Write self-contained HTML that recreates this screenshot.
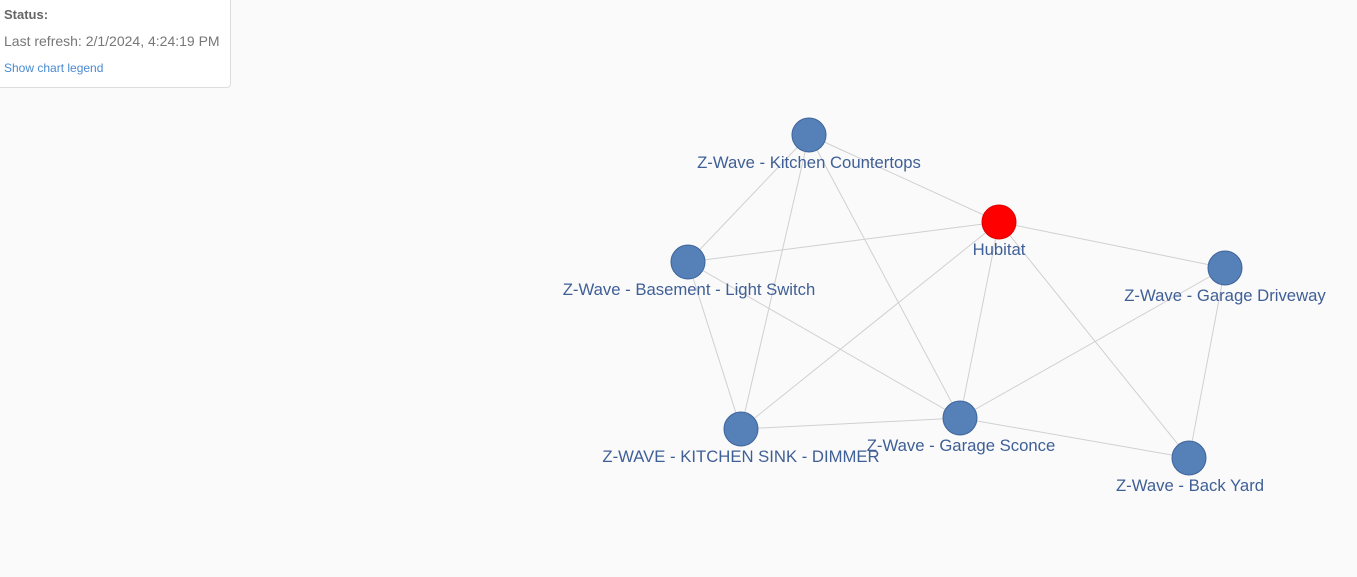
<!DOCTYPE html>
<html><head><style>
body{margin:0;width:1357px;height:577px;background:#fafafa;font-family:"Liberation Sans",sans-serif;overflow:hidden;position:relative}
.box{position:absolute;left:-1px;top:-1px;width:230px;height:87px;background:#fff;border:1px solid #ddd;border-radius:0 0 4px 0}
.t1{position:absolute;left:4px;top:7px;font-size:13px;font-weight:bold;color:#666}
.t2{position:absolute;left:4px;top:33px;font-size:14px;color:#777}
.t3{position:absolute;left:4px;top:61px;font-size:12px;color:#4a8ad0}
</style></head><body>
<div class="box"></div>
<div class="t1">Status:</div>
<div class="t2">Last refresh: 2/1/2024, 4:24:19 PM</div>
<div class="t3">Show chart legend</div>
<svg width="1357" height="577" style="position:absolute;left:0;top:0">
<g stroke="#d0d0d0" stroke-width="1">
<line x1="809" y1="135" x2="999" y2="222"/>
<line x1="809" y1="135" x2="688" y2="262"/>
<line x1="809" y1="135" x2="960" y2="418"/>
<line x1="809" y1="135" x2="741" y2="429"/>
<line x1="688" y1="262" x2="999" y2="222"/>
<line x1="688" y1="262" x2="741" y2="429"/>
<line x1="688" y1="262" x2="960" y2="418"/>
<line x1="999" y1="222" x2="1225" y2="268"/>
<line x1="999" y1="222" x2="741" y2="429"/>
<line x1="999" y1="222" x2="960" y2="418"/>
<line x1="999" y1="222" x2="1189" y2="458"/>
<line x1="1225" y1="268" x2="960" y2="418"/>
<line x1="1225" y1="268" x2="1189" y2="458"/>
<line x1="741" y1="429" x2="960" y2="418"/>
<line x1="960" y1="418" x2="1189" y2="458"/>
</g>
<g fill="#5580b8" stroke="#3e649a" stroke-width="1">
<circle cx="809" cy="135" r="17"/>
<circle cx="688" cy="262" r="17"/>
<circle cx="1225" cy="268" r="17"/>
<circle cx="960" cy="418" r="17"/>
<circle cx="741" cy="429" r="17"/>
<circle cx="1189" cy="458" r="17"/>
</g>
<circle cx="999" cy="222" r="17" fill="#f00" stroke="#d00"/>
<g fill="#3f5f96" font-family="Liberation Sans,sans-serif" font-size="16.7" text-anchor="middle">
<text x="809" y="168">Z-Wave - Kitchen Countertops</text>
<text x="999" y="255">Hubitat</text>
<text x="689" y="295">Z-Wave - Basement - Light Switch</text>
<text x="1225" y="301">Z-Wave - Garage Driveway</text>
<text x="961" y="451">Z-Wave - Garage Sconce</text>
<text x="741" y="462">Z-WAVE - KITCHEN SINK - DIMMER</text>
<text x="1190" y="491">Z-Wave - Back Yard</text>
</g>
</svg>
</body></html>
